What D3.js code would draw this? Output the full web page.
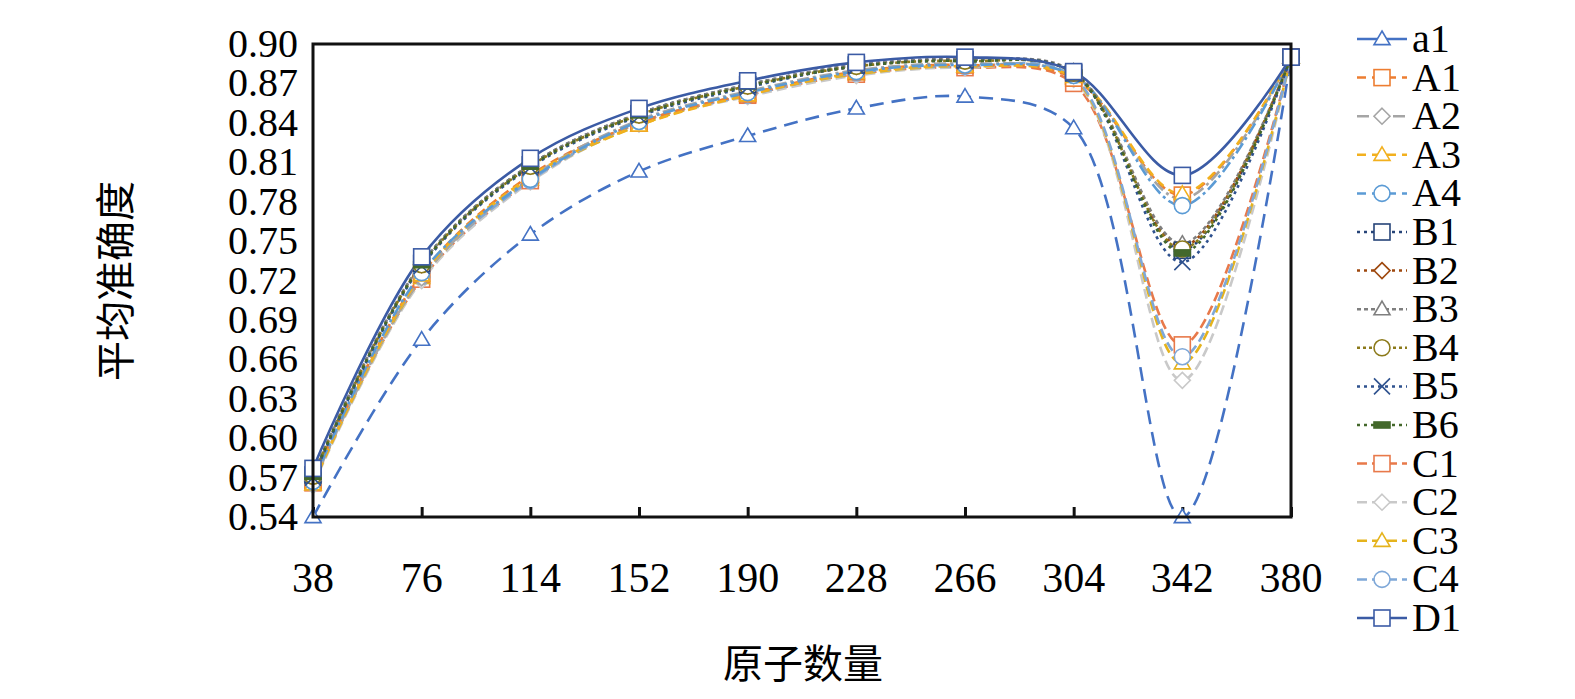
<!DOCTYPE html>
<html><head><meta charset="utf-8">
<script src="https://cdn.jsdelivr.net/npm/d3@7"></script>
<style>body{margin:0;background:#fff} .serif{font-family:"Liberation Serif","Times New Roman",Tinos,"DejaVu Serif","Noto Serif",serif}</style>
</head><body>
<svg id="chart" width="1575" height="699"></svg>
<script>
var atoms = [38, 76, 114, 152, 190, 228, 266, 304, 342, 380];
var yTicks = [0.54, 0.57, 0.60, 0.63, 0.66, 0.69, 0.72, 0.75, 0.78, 0.81, 0.84, 0.87, 0.90];
var names = ["a1","A1","A2","A3","A4","B1","B2","B3","B4","B5","B6","C1","C2","C3","C4","D1"];
var a1 = [0.540, 0.675, 0.755, 0.803, 0.830, 0.851, 0.860, 0.836, 0.540, 0.890];
var A1 = [0.568, 0.725, 0.800, 0.840, 0.862, 0.879, 0.884, 0.874, 0.785, 0.890];
var A2 = [0.566, 0.722, 0.798, 0.842, 0.864, 0.880, 0.885, 0.876, 0.782, 0.890];
var A3 = [0.565, 0.724, 0.799, 0.838, 0.861, 0.878, 0.883, 0.875, 0.786, 0.890];
var A4 = [0.567, 0.726, 0.797, 0.841, 0.863, 0.879, 0.884, 0.876, 0.777, 0.890];
var B1 = [0.572, 0.733, 0.808, 0.847, 0.869, 0.884, 0.888, 0.878, 0.743, 0.890];
var B2 = [0.571, 0.732, 0.807, 0.846, 0.868, 0.883, 0.888, 0.878, 0.746, 0.890];
var B3 = [0.572, 0.733, 0.808, 0.847, 0.869, 0.884, 0.888, 0.879, 0.748, 0.890];
var B4 = [0.571, 0.732, 0.807, 0.846, 0.868, 0.883, 0.887, 0.878, 0.744, 0.890];
var B5 = [0.570, 0.731, 0.806, 0.845, 0.867, 0.883, 0.887, 0.878, 0.734, 0.890];
var B6 = [0.571, 0.732, 0.807, 0.846, 0.868, 0.883, 0.887, 0.878, 0.741, 0.890];
var C1 = [0.566, 0.721, 0.796, 0.840, 0.861, 0.877, 0.882, 0.870, 0.671, 0.890];
var C2 = [0.564, 0.720, 0.795, 0.839, 0.860, 0.876, 0.882, 0.873, 0.644, 0.890];
var C3 = [0.565, 0.722, 0.797, 0.838, 0.862, 0.877, 0.883, 0.874, 0.657, 0.890];
var C4 = [0.566, 0.723, 0.796, 0.840, 0.861, 0.878, 0.883, 0.875, 0.662, 0.890];
var D1 = [0.577, 0.738, 0.813, 0.851, 0.872, 0.886, 0.890, 0.879, 0.800, 0.890];
var values = [a1,A1,A2,A3,A4,B1,B2,B3,B4,B5,B6,C1,C2,C3,C4,D1];
var colors = ["#4472C4","#ED7D31","#A5A5A5","#F2B01E","#5B9BD5","#264478","#9E480E","#7F7F7F","#8C7A1A","#2F528F","#43682B","#E8794A","#C9C9C9","#E5B31C","#7FA8D8","#3B5BA5"];
var dashes = ["14,8","9,6","12,4,3,4","9,6","12,4,3,4","3,4","3,4","4,3","3,3","3,4","3,4","10,5","10,5","10,5","10,5",""];
var legendDash = ["","9,6","12,6","9,6","9,6","3,4","3,4","4,3","3,3","3,4","3,4","10,5","10,5","10,5","10,5",""];
var markers = ["tri","sq","dia","tri","circ","sq","dia","tri","circ","x","bar","sq","dia","tri","circ","sq"];

var svg = d3.select("#chart");
var x = d3.scaleLinear().domain([38, 380]).range([313, 1291]);
var y = d3.scaleLinear().domain([0.54, 0.90]).range([517, 44]);

svg.append("g").attr("transform","translate(0,517)")
  .call(d3.axisBottom(x).tickValues(atoms).tickSize(-10).tickSizeOuter(0).tickFormat(""))
  .call(g => g.select(".domain").remove())
  .selectAll("line").attr("stroke","#111").attr("stroke-width",3);
svg.selectAll(".xl").data(atoms).enter().append("text").attr("class","serif")
  .attr("x", d => x(d)).attr("y", 592).attr("text-anchor","middle")
  .style("font-size","42px").text(d => d);
svg.selectAll(".yl").data(yTicks).enter().append("text").attr("class","serif")
  .attr("x", 298).attr("y", d => y(d) + 13).attr("text-anchor","end")
  .style("font-size","40px").text(d => d.toFixed(2));

function marker(g, type, cx, cy, color){
  var s = 8;
  if (type == "tri") g.append("path").attr("d", `M${cx},${cy-s}L${cx+s},${cy+s*0.7}L${cx-s},${cy+s*0.7}Z`);
  else if (type == "sq") g.append("rect").attr("x",cx-s).attr("y",cy-s).attr("width",2*s).attr("height",2*s);
  else if (type == "dia") g.append("path").attr("d", `M${cx},${cy-s}L${cx+s},${cy}L${cx},${cy+s}L${cx-s},${cy}Z`);
  else if (type == "circ") g.append("circle").attr("cx",cx).attr("cy",cy).attr("r",s);
  else if (type == "x") g.append("path").attr("d", `M${cx-s},${cy-s}L${cx+s},${cy+s}M${cx+s},${cy-s}L${cx-s},${cy+s}`);
  else if (type == "bar") g.append("rect").attr("x",cx-s).attr("y",cy-3).attr("width",2*s).attr("height",6).attr("fill",color);
  g.selectAll("*").attr("stroke",color).attr("stroke-width",1.6).filter(function(){return type!="bar";}).attr("fill","#fff");
}

var plot = svg.append("g");
var line = d3.line().x((d,i) => x(atoms[i])).y(d => y(d)).curve(d3.curveCatmullRom.alpha(0.5));
var order = [0,11,12,13,14,1,2,3,4,5,6,7,8,9,10,15];
order.forEach(function(k){
  plot.append("path").attr("d", line(values[k])).attr("fill","none")
    .attr("stroke", colors[k]).attr("stroke-width", 2.6)
    .attr("stroke-dasharray", dashes[k]);
});
order.forEach(function(k){
  var g = plot.append("g");
  values[k].forEach(function(v,i){ marker(g, markers[k], x(atoms[i]), y(v), colors[k]); });
});

svg.append("rect").attr("x",313).attr("y",44).attr("width",978).attr("height",473)
  .attr("fill","none").attr("stroke","#111").attr("stroke-width",3);

svg.append("text").attr("transform","translate(130,281) rotate(-90)").attr("text-anchor","middle")
  .style("font-family","'Noto Sans CJK SC',serif").style("font-size","40px").text("平均准确度");
svg.append("text").attr("x",803).attr("y",678).attr("text-anchor","middle")
  .style("font-family","'Noto Sans CJK SC',serif").style("font-size","40px").text("原子数量");

var leg = svg.selectAll(".leg").data(names).enter().append("g")
  .attr("transform", (d,i) => `translate(1357,${39 + i*38.6})`);
leg.each(function(d,i){
  var g = d3.select(this);
  g.append("line").attr("x1",0).attr("x2",50).attr("stroke",colors[i]).attr("stroke-width",2.5)
    .attr("stroke-dasharray", legendDash[i]);
  marker(g.append("g"), markers[i], 25, 0, colors[i]);
  g.append("text").attr("class","serif").attr("x",55).attr("y",13).style("font-size","40px").text(d);
});
</script>
</body></html>
